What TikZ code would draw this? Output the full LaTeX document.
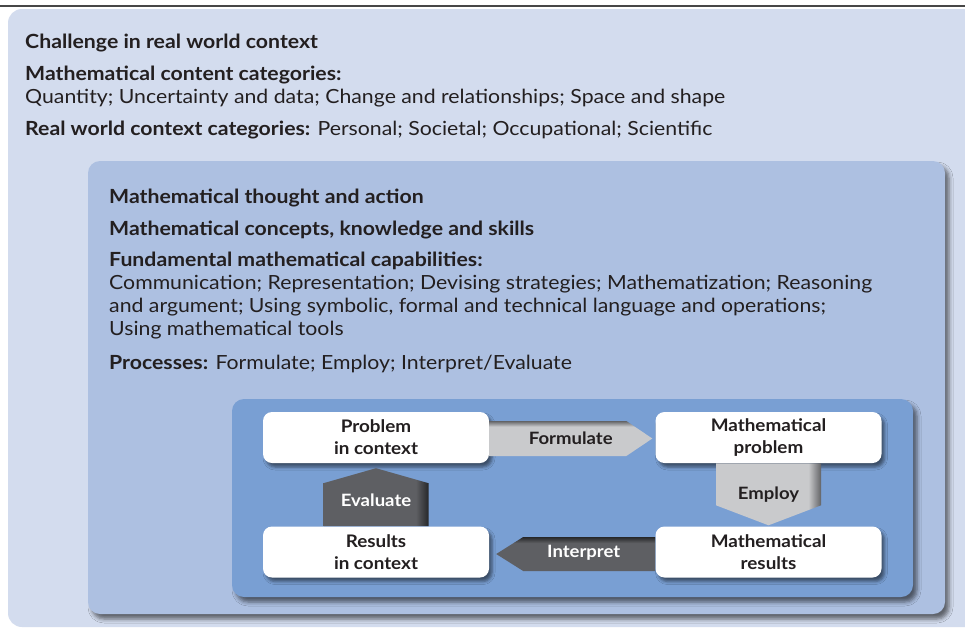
\documentclass[tikz,border=0pt]{standalone}
\usepackage{fontspec}
\setmainfont{Lato}[FakeStretch=1.09]
\usetikzlibrary{calc,shadows.blur}

\definecolor{ink}{HTML}{231F20}
\definecolor{ctxfill}{HTML}{D3DCEE}
\definecolor{mtafill}{HTML}{ADC0E1}
\definecolor{cyclefill}{HTML}{799FD3}
\definecolor{palearrow}{HTML}{C9CACC}
\definecolor{palerim}{HTML}{626366}
\definecolor{darkarrow}{HTML}{5E5F63}
\definecolor{darkrim}{HTML}{262729}

% arrow fills with a dark rim on one side
\pgfdeclareverticalshading{paletop}{100bp}{color(0bp)=(palearrow); color(67bp)=(palearrow); color(75bp)=(palerim); color(100bp)=(palerim)}
\pgfdeclarehorizontalshading{paleright}{100bp}{color(0bp)=(palearrow); color(69bp)=(palearrow); color(75bp)=(palerim); color(100bp)=(palerim)}
\pgfdeclareverticalshading{darktop}{100bp}{color(0bp)=(darkarrow); color(66bp)=(darkarrow); color(75bp)=(darkrim); color(100bp)=(darkrim)}
\pgfdeclarehorizontalshading{darkright}{100bp}{color(0bp)=(darkarrow); color(69bp)=(darkarrow); color(75bp)=(darkrim); color(100bp)=(darkrim)}

\begin{document}
\begin{tikzpicture}[x=1pt,y=-1pt,
  head/.style={anchor=base west,inner sep=0pt,text=ink,font=\fontsize{19.5}{23}\selectfont\bfseries},
  body/.style={anchor=base west,inner sep=0pt,text=ink,align=left,font=\fontsize{19.5}{23}\selectfont},
  panel/.style={rounded corners=12pt,
    blur shadow={shadow xshift=4pt,shadow yshift=-5pt,shadow blur radius=4pt,shadow opacity=55}},
  stage/.style={fill=white,rounded corners=9pt,minimum width=226pt,minimum height=51pt,
    align=center,text=ink,font=\fontsize{17.3}{22}\selectfont\bfseries,
    blur shadow={shadow xshift=3pt,shadow yshift=-4pt,shadow blur radius=3pt,shadow opacity=50}},
  verb/.style={inner sep=0pt,text=ink,font=\fontsize{17}{22}\selectfont\bfseries},
  verbdark/.style={verb,text=white}]

\clip (0,0) rectangle (965,629);
\fill[white] (0,0) rectangle (965,629);
\draw[line width=1.6pt,black!72] (0,6) -- (965,6);

% ---------- outer panel : context ----------
\fill[ctxfill,rounded corners=14pt] (8,9) rectangle (1000,627);
\node[head] (ctx)     at (25,48)  {Challenge in real world context};
\node[head] (content) at (25,80)  {Mathematical content categories:};
\node[body] (contlist) at (25,103) {Quantity; Uncertainty and data; Change and relationships; Space and shape};
\node[body] (realctx) at (25,135) {\textbf{Real world context categories:} Personal; Societal; Occupational; Scientific};

% ---------- middle panel : thought and action ----------
\fill[mtafill,panel] (88,161) rectangle (945,614);
\node[head] (thought)  at (109,203) {Mathematical thought and action};
\node[head] (concepts) at (109,235) {Mathematical concepts, knowledge and skills};
\node[head] (capab)    at (109,266) {Fundamental mathematical capabilities:};
% base of a multi-line node sits on its last line
\node[body] (capablist) at (109,335) {Communication; Representation; Devising strategies; Mathematization; Reasoning\\
  and argument; Using symbolic, formal and technical language and operations;\\
  Using mathematical tools};
\node[body] (procs) at (109,369) {\textbf{Processes:} Formulate; Employ; Interpret/Evaluate};

% ---------- inner panel : modelling cycle ----------
\fill[cyclefill,panel] (232,399) rectangle (913,597);
\node[stage] (prob)  at (376,437.5)   {Problem\\in context};
\node[stage] (mprob) at (768.5,437.5) {Mathematical\\problem};
\node[stage] (mres)  at (768.5,552)   {Mathematical\\results};
\node[stage] (res)   at (376,552)     {Results\\in context};

% block arrows between the stages
\coordinate (formtip) at ([xshift=-3pt,yshift=-1pt]mprob.west);
\shade[shading=paletop] (formtip) -- ++(-26,-17.5) -- ++(-137,0) -- ++(0,35) -- ++(137,0) -- cycle;
\node[verb] (formulate) at ($(prob.east)!0.5!(formtip)$) {Formulate};

\coordinate (emptip) at ([yshift=1pt]mres.north);
\shade[shading=paleright] (emptip) -- ++(52.5,-20) -- ++(0,-42) -- ++(-105,0) -- ++(0,42) -- cycle;
\node[verb] (employ) at ($(mprob.south)!0.5!(emptip)$) {Employ};

\coordinate (inttip) at ([xshift=7pt,yshift=-2pt]res.east);
\shade[shading=darktop] (inttip) -- ++(27,-17) -- ++(132,0) -- ++(0,34) -- ++(-132,0) -- cycle;
\node[verbdark] (interpret) at ($(inttip)!0.55!(mres.west)$) {Interpret};

\coordinate (evaltip) at ([yshift=-5pt]prob.south);
\shade[shading=darkright] (evaltip) -- ++(52.5,15) -- ++(0,43) -- ++(-105,0) -- ++(0,-43) -- cycle;
\node[verbdark] (evaluate) at ($(evaltip)!0.55!(res.north)$) {Evaluate};
\end{tikzpicture}
\end{document}
